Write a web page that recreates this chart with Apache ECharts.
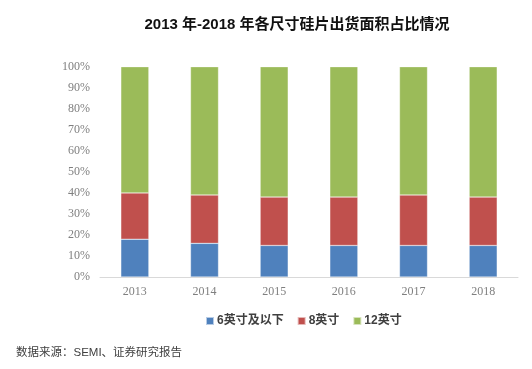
<!DOCTYPE html>
<html><head><meta charset="utf-8">
<script src="https://cdn.jsdelivr.net/npm/echarts@6/dist/echarts.min.js"></script>
<style>html,body{margin:0;padding:0;background:#fff;}#c{width:532px;height:369px;}</style>
</head><body><div id="c"></div>
<script>
const categories = ['2013','2014','2015','2016','2017','2018'];
const s6 = [18,16,15,15,15,15];
const s8 = [22,23,23,23,24,23];
const s12 = [60,61,62,62,61,62];
const seriesNames = ['6英寸及以下','8英寸','12英寸'];
const yTicks = [0,10,20,30,40,50,60,70,80,90,100];
const colors = ['#4F81BD','#C0504D','#9BBB59'];

const chart = echarts.init(document.getElementById('c'));
const mk = (name, data, i) => ({
  name, type:'bar', stack:'a', data, barWidth:28,
  itemStyle:{color:colors[i], borderColor:'rgba(255,255,255,0.6)', borderWidth:0.5}
});
chart.setOption({
  animation:false,
  title:{text:'2013 年-2018 年各尺寸硅片出货面积占比情况', left:292, top:12, textAlign:'center',
    textStyle:{fontFamily:'Liberation Sans, Noto Sans CJK SC', fontWeight:'bold', fontSize:15, color:'#111'}},
  grid:{left:100, right:14, top:66.7, bottom:92},
  legend:{data:seriesNames, top:310, left:200, itemWidth:8, itemHeight:8, itemGap:13, icon:'rect',
    textStyle:{fontFamily:'Liberation Sans, Noto Sans CJK SC', fontWeight:'bold', fontSize:12, color:'#404040', padding:[0,0,0,-2]}},
  xAxis:{type:'category', data:categories,
    axisLine:{lineStyle:{color:'#d9d9d9'}}, axisTick:{show:false},
    axisLabel:{fontFamily:'Liberation Serif', fontSize:12, color:'#7f7f7f', margin:9}},
  yAxis:{type:'value', min:0, max:100, interval:10, splitLine:{show:false},
    axisLine:{show:false}, axisTick:{show:false},
    axisLabel:{fontFamily:'Liberation Serif', fontSize:12, color:'#7f7f7f', margin:10,
      formatter:v=> yTicks.includes(v) ? v+'%' : ''}},
  series:[mk(seriesNames[0], s6, 0), mk(seriesNames[1], s8, 1), mk(seriesNames[2], s12, 2)],
  graphic:[{type:'text', left:16, top:347, style:{text:'数据来源：SEMI、证券研究报告',
    font:'11.5px "Liberation Sans", "Noto Sans CJK SC"', fill:'#404040'}}]
});
</script></body></html>
